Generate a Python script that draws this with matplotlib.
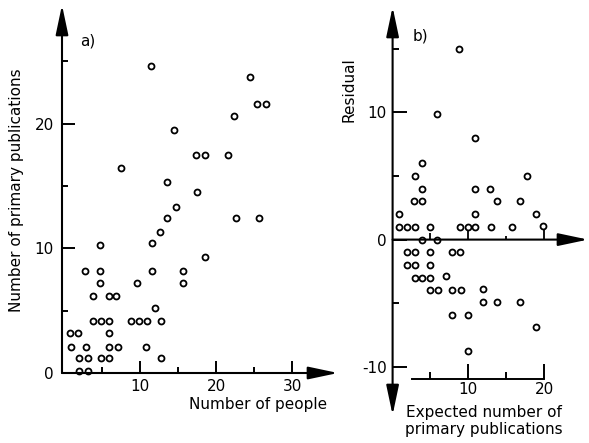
import matplotlib
matplotlib.use("Agg")
import matplotlib.pyplot as plt

# a) number of people in the group vs. number of primary publications
people = [2.0, 3.1,
          2.0, 3.1, 4.9, 5.9, 12.8,
          0.9, 2.9, 5.9, 7.1, 10.8,
          0.8, 1.9, 5.9,
          3.8, 4.9, 5.9, 8.8, 9.8, 10.9, 12.8,
          11.9,
          3.8, 5.9, 6.9,
          4.8, 9.6, 15.7,
          2.8, 4.8, 11.6, 15.6,
          18.5,
          4.7, 11.6,
          12.6,
          13.6, 22.6, 25.6,
          14.7,
          17.5,
          13.5,
          7.5,
          17.4, 18.5, 21.6,
          14.5,
          22.4,
          25.4, 26.5,
          24.4,
          11.4]
publications = [0.15, 0.15,
                1.2, 1.2, 1.2, 1.2, 1.2,
                2.1, 2.1, 2.1, 2.1, 2.1,
                3.2, 3.2, 3.2,
                4.2, 4.2, 4.2, 4.2, 4.2, 4.2, 4.2,
                5.2,
                6.2, 6.2, 6.2,
                7.2, 7.2, 7.2,
                8.2, 8.2, 8.2, 8.2,
                9.3,
                10.3, 10.4,
                11.3,
                12.4, 12.4, 12.4,
                13.3,
                14.5,
                15.3,
                16.4,
                17.5, 17.5, 17.5,
                19.5,
                20.6,
                21.6, 21.6,
                23.7,
                24.6]

# b) expected number of primary publications vs. residual
expected = [8.8,
            5.9,
            10.9,
            3.9,
            2.9, 17.8,
            3.9, 10.9, 12.8,
            2.8, 3.9, 13.8, 16.8,
            0.9, 10.9, 18.9,
            0.9, 1.9, 2.9, 4.9, 8.9, 9.9, 10.9, 13.0, 15.8, 19.8,
            3.9, 5.9,
            1.9, 2.9, 4.9, 7.8, 8.9,
            1.9, 2.9, 4.9,
            2.9, 3.9, 4.9, 7.0,
            4.9, 6.0, 7.9, 9.0, 12.0,
            12.0, 13.8, 16.8,
            7.9, 10.0,
            18.9,
            9.9]
residual = [15.0,
            9.9,
            8.0,
            6.0,
            5.0, 5.0,
            4.0, 4.0, 4.0,
            3.0, 3.0, 3.0, 3.0,
            2.0, 2.0, 2.0,
            1.0, 1.0, 1.0, 1.0, 1.0, 1.0, 1.0, 1.0, 1.0, 1.1,
            0.0, 0.0,
            -1.0, -1.0, -1.0, -1.0, -1.0,
            -2.0, -2.0, -2.0,
            -3.0, -3.0, -3.0, -2.9,
            -4.0, -4.0, -4.0, -4.0, -3.9,
            -4.9, -4.9, -4.9,
            -5.9, -5.9,
            -6.9,
            -8.8]

a_xticks = [10, 20, 30]
a_xminor = [5, 15, 25]
a_yticks = [0, 10, 20]
a_yminor = [5, 15, 25]

b_xticks = [10, 20]
b_xminor = [5, 15]
b_yticks = [-10, 0, 10]
b_ylabels = ['-10', '0', '10']
b_yminor = [-5, 5, 15]
# little tick stems standing on the zero line
b_stems = [5, 10, 15, 20]
b_stem_top = [0.5, 0.75, 0.3, 0.75]

W, H = 589, 443
plt.rcParams['font.family'] = 'DejaVu Sans'
plt.rcParams['font.size'] = 11

fig = plt.figure(figsize=(W / 100, H / 100), dpi=100)


def px_axes(left, top, right, bottom):
    """Add axes given in pixel coords of the figure (origin top-left)."""
    ax = fig.add_axes([left / W, 1 - bottom / H, (right - left) / W, (bottom - top) / H])
    ax.patch.set_visible(False)
    for s in ax.spines.values():
        s.set_visible(False)
    return ax


ARROW = dict(arrowstyle='-|>,head_length=2.6,head_width=0.55', lw=1.5, color='black',
             shrinkA=0, shrinkB=0, mutation_scale=7)
ARROW2 = dict(ARROW, arrowstyle='<|-|>,head_length=2.6,head_width=0.55')
MARK = dict(linestyle='none', marker='o', ms=4.3, mew=1.3, mfc='white', mec='black',
            clip_on=False, zorder=3)

# ---- panel a ----
ax = px_axes(62, 5, 338, 373)
ax.set_xlim(-0.25, 36)
ax.set_ylim(0, 29.5)
ax.plot(people, publications, **MARK)

ax.set_xticks(a_xticks)
ax.set_xticks(a_xminor, minor=True)
ax.set_yticks(a_yticks)
ax.set_yticks(a_yminor, minor=True)
ax.tick_params(which='both', direction='in', width=1.4, top=False, right=False)
ax.tick_params(which='major', length=9)
ax.tick_params(which='minor', length=4.5)
ax.tick_params(axis='x', pad=4)
ax.tick_params(axis='y', pad=6)

ax.annotate('', xy=(1, 0), xytext=(0, 0), xycoords='axes fraction', arrowprops=ARROW)
ax.annotate('', xy=(0, 1), xytext=(0, 0), xycoords='axes fraction', arrowprops=ARROW)
ax.text(0.094, 0.903, 'a)', transform=ax.transAxes, ha='center', va='center')

fig.text(17 / W, 1 - 190 / H, 'Number of primary publications', rotation=90,
         ha='center', va='center')
fig.text(258 / W, 1 - 404 / H, 'Number of people', ha='center', va='center')

# ---- panel b ----
bx = px_axes(392.6, 7, 588, 415)
bx.set_xlim(0, 25.8)
bx.set_ylim(-13.8, 18.3)
bx.plot(expected, residual, **MARK)
bx.vlines(b_stems, 0, b_stem_top, color='black', lw=1.3)

# separate scale for the x values drawn below the cloud
bx.spines['bottom'].set_visible(True)
bx.spines['bottom'].set_position(('data', -11.0))
bx.spines['bottom'].set_bounds(2.5, 20)
bx.spines['bottom'].set_linewidth(1.4)

bx.set_xticks(b_xticks)
bx.set_xticks(b_xminor, minor=True)
bx.set_yticks(b_yticks, b_ylabels)
bx.set_yticks(b_yminor, minor=True)
bx.tick_params(which='both', direction='in', width=1.4, top=False, right=False)
bx.tick_params(axis='x', which='major', length=11, pad=2)
bx.tick_params(axis='x', which='minor', length=5)
bx.tick_params(axis='y', which='major', length=10, pad=4)
bx.tick_params(axis='y', which='minor', length=4)

bx.annotate('', xy=(0, 1), xytext=(0, 0), xycoords='axes fraction', arrowprops=ARROW2)
bx.annotate('', xy=(1, 0), xytext=(0, 0), xycoords=('axes fraction', 'data'),
            arrowprops=ARROW)
bx.text(0.14, 0.929, 'b)', transform=bx.transAxes, ha='center', va='center')

fig.text(349 / W, 1 - 90 / H, 'Residual', rotation=90, ha='center', va='center')
fig.text(484 / W, 1 - 421 / H, 'Expected number of\nprimary publications',
         ha='center', va='center', linespacing=1.15)

fig.savefig('out.png', dpi=100)
